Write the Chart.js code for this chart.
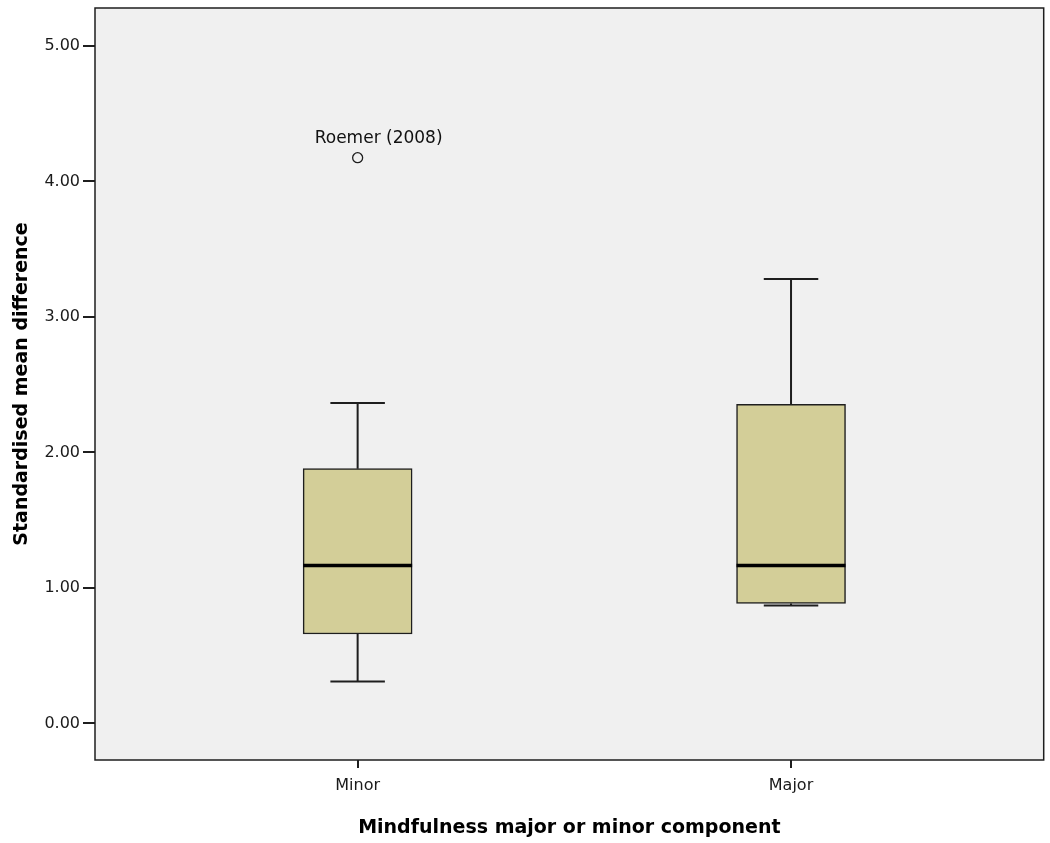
<!DOCTYPE html>
<html>
<head>
<meta charset="utf-8">
<script src="https://cdn.jsdelivr.net/npm/chart.js@4.4.1/dist/chart.umd.min.js"></script>
<style>
  html, body { margin: 0; padding: 0; background: #fff; }
</style>
</head>
<body>
<canvas id="myChart" width="1050" height="843"></canvas>
<script>
// box plot summary per category
const categories = ['Minor', 'Major'];
const whiskerLow = [0.31, 0.87];
const q1 = [0.66, 0.885];
const median = [1.165, 1.165];
const q3 = [1.88, 2.355];
const whiskerHigh = [2.365, 3.28];
const outlierCat = [0];
const outlierValue = [4.175];
const outlierLabel = ['Roemer (2008)'];
const yTicks = [0, 1, 2, 3, 4, 5];

const dark = '#1e1e1e';

const plotFrame = {
  id: 'plotFrame',
  beforeDraw(chart) {
    const {ctx, chartArea: a} = chart;
    ctx.save();
    ctx.fillStyle = '#f0f0f0';
    ctx.fillRect(a.left, a.top, a.right - a.left, a.bottom - a.top);
    ctx.restore();
  },
  afterDraw(chart) {
    const {ctx, chartArea: a} = chart;
    ctx.save();
    ctx.strokeStyle = dark;
    ctx.lineWidth = 1.5;
    ctx.strokeRect(a.left, a.top, a.right - a.left, a.bottom - a.top);
    ctx.restore();
  }
};

// whiskers, caps and medians, placed with the chart's own scales
const boxParts = {
  id: 'boxParts',
  afterDatasetsDraw(chart) {
    const {ctx, scales: {x, y}} = chart;
    const bars = chart.getDatasetMeta(0).data;
    ctx.save();
    categories.forEach((c, i) => {
      const cx = x.getPixelForValue(i + 1);
      const half = bars[i].width / 2;
      const capHalf = half / 2;
      ctx.strokeStyle = dark;
      ctx.lineWidth = 2;
      ctx.beginPath();
      ctx.moveTo(cx, y.getPixelForValue(q3[i]));
      ctx.lineTo(cx, y.getPixelForValue(whiskerHigh[i]));
      ctx.moveTo(cx, y.getPixelForValue(q1[i]));
      ctx.lineTo(cx, y.getPixelForValue(whiskerLow[i]));
      ctx.moveTo(cx - capHalf, y.getPixelForValue(whiskerHigh[i]));
      ctx.lineTo(cx + capHalf, y.getPixelForValue(whiskerHigh[i]));
      ctx.moveTo(cx - capHalf, y.getPixelForValue(whiskerLow[i]));
      ctx.lineTo(cx + capHalf, y.getPixelForValue(whiskerLow[i]));
      ctx.stroke();
      ctx.lineWidth = 3.5;
      ctx.strokeStyle = '#000';
      ctx.beginPath();
      ctx.moveTo(cx - half, y.getPixelForValue(median[i]));
      ctx.lineTo(cx + half, y.getPixelForValue(median[i]));
      ctx.stroke();
    });
    ctx.fillStyle = '#111';
    ctx.font = '17px "DejaVu Sans"';
    ctx.textAlign = 'center';
    ctx.textBaseline = 'alphabetic';
    outlierCat.forEach((c, i) => {
      const px = x.getPixelForValue(c + 1);
      const py = y.getPixelForValue(outlierValue[i]);
      ctx.fillText(outlierLabel[i], px + 21, py - 15);
    });
    ctx.restore();
  }
};

const ctx = document.getElementById('myChart');
new Chart(ctx, {
  type: 'bar',
  data: {
    datasets: [{
      type: 'bar',
      data: categories.map((c, i) => ({x: i + 1, y: [q1[i], q3[i]]})),
      backgroundColor: '#d3ce98',
      borderColor: dark,
      borderWidth: 1.5,
      borderSkipped: false,
      barThickness: 109
    }, {
      type: 'line',
      showLine: false,
      data: outlierCat.map((c, i) => ({x: c + 1, y: outlierValue[i]})),
      pointStyle: 'circle',
      pointRadius: 5,
      pointBorderWidth: 1.3,
      pointBorderColor: dark,
      pointBackgroundColor: '#f0f0f0'
    }]
  },
  options: {
    responsive: false,
    devicePixelRatio: 1,
    animation: false,
    layout: { padding: { top: 8, right: 4, left: 0, bottom: 0 } },
    plugins: { legend: { display: false }, tooltip: { enabled: false } },
    scales: {
      x: {
        type: 'linear',
        offset: false,
        min: 0.394,
        max: 2.583,
        afterBuildTicks: axis => { axis.ticks = categories.map((c, i) => ({value: i + 1})); },
        afterFit: axis => { axis.height = 83; axis.paddingLeft = 0; axis.paddingRight = 0; },
        border: { display: false },
        grid: { offset: false, drawOnChartArea: false, drawTicks: true, tickLength: 8, color: dark, lineWidth: 2 },
        ticks: {
          autoSkip: false,
          maxRotation: 0,
          padding: 8,
          color: '#1a1a1a',
          font: { family: 'DejaVu Sans', size: 16 },
          callback: v => categories[v - 1]
        },
        title: {
          display: true,
          text: 'Mindfulness major or minor component',
          color: '#000',
          font: { family: 'DejaVu Sans', size: 19, weight: 'bold' },
          padding: { top: 0, bottom: 4 }
        }
      },
      y: {
        min: -0.27,
        max: 5.28,
        afterBuildTicks: axis => { axis.ticks = yTicks.map(v => ({value: v})); },
        afterFit: axis => { axis.width = 95; axis.paddingTop = 0; axis.paddingBottom = 0; },
        border: { display: false },
        grid: { drawOnChartArea: false, drawTicks: true, tickLength: 12, color: dark, lineWidth: 2 },
        ticks: {
          padding: 3,
          color: '#1a1a1a',
          font: { family: 'DejaVu Sans', size: 16 },
          callback: v => Number(v).toFixed(2)
        },
        title: {
          display: true,
          text: 'Standardised mean difference',
          color: '#000',
          font: { family: 'DejaVu Sans', size: 19, weight: 'bold' },
          padding: { top: 11, bottom: 0 }
        }
      }
    }
  },
  plugins: [plotFrame, boxParts]
});
</script>
</body>
</html>
